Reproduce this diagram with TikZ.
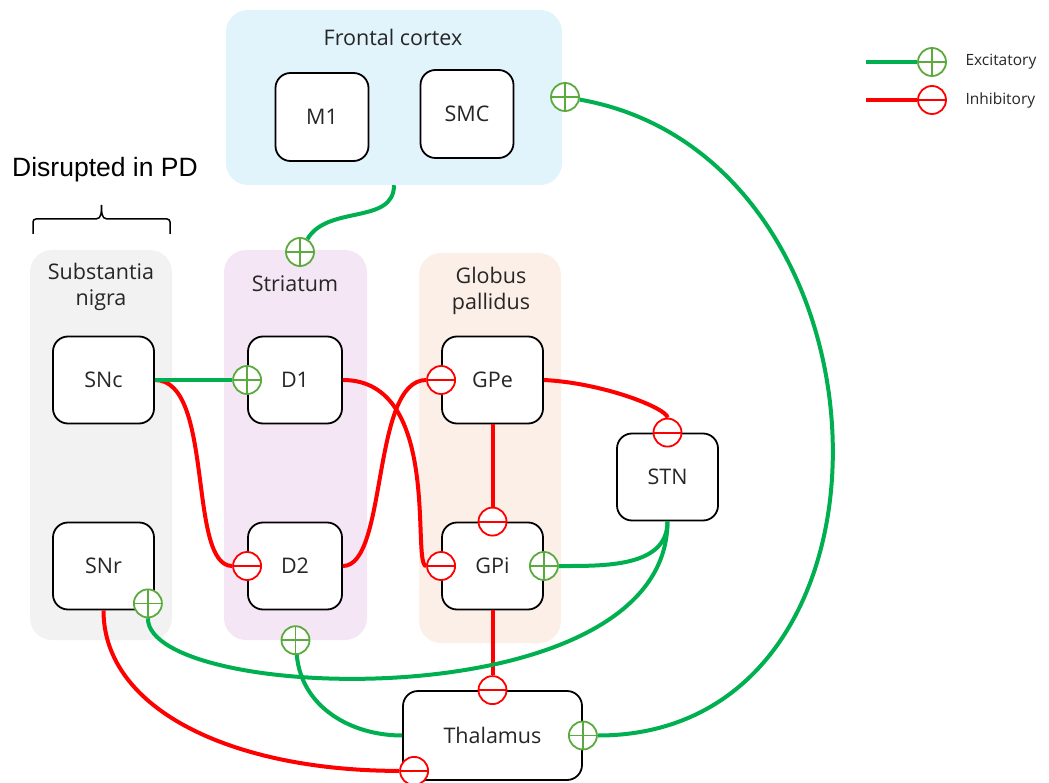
\documentclass[tikz,border=0pt]{standalone}
\usepackage{fontspec}
\setmainfont{Open Sans}
\newfontfamily\arialfont{Liberation Sans}
\usetikzlibrary{positioning, calc}

\definecolor{excline}{HTML}{00B050}
\definecolor{exccirc}{HTML}{5BAA3E}
\definecolor{inhline}{HTML}{FF0000}
\definecolor{cortexbg}{HTML}{E1F3FB}
\definecolor{nigrabg}{HTML}{F2F2F2}
\definecolor{striatbg}{HTML}{F5E6F5}
\definecolor{pallidbg}{HTML}{FCEFE7}
\definecolor{labeltext}{HTML}{262626}

\begin{document}
\begin{tikzpicture}[
    x=1pt, y=1pt,
    every node/.style={font=\fontsize{21.5}{26}\selectfont, text=labeltext},
    region/.style={rounded corners=22pt, inner sep=0pt},
    nucleus/.style={draw=black, rounded corners=15pt, fill=white, line width=1.8pt,
                    minimum width=101pt, minimum height=87pt},
    exc/.style={circle, draw=exccirc, fill=white, line width=1.8pt,
                minimum size=28pt, inner sep=0pt,
                path picture={\draw[exccirc, line width=1.8pt]
                  (path picture bounding box.north) -- (path picture bounding box.south)
                  (path picture bounding box.west) -- (path picture bounding box.east);}},
    inh/.style={circle, draw=inhline, fill=white, line width=1.8pt,
                minimum size=28pt, inner sep=0pt,
                path picture={\draw[inhline, line width=1.8pt]
                  (path picture bounding box.west) -- (path picture bounding box.east);}},
    excedge/.style={draw=excline, line width=4pt},
    inhedge/.style={draw=inhline, line width=4pt},
    legendtext/.style={anchor=west, font=\fontsize{15.5}{18}\selectfont},
]
\useasboundingbox (0,0) rectangle (1049,-783);

% Regions
\node[region, fill=cortexbg, minimum width=336pt, minimum height=175pt] (cortex) at (394,-97.5) {};
\node[region, fill=nigrabg,  minimum width=142pt, minimum height=390pt] (nigra) at (101,-445) {};
\node[region, fill=striatbg, minimum width=143pt, minimum height=390pt] (striatum) at (295.5,-445) {};
\node[region, fill=pallidbg, minimum width=142pt, minimum height=390pt] (pallidus) at (490,-448) {};

\node at (393,-37) {Frontal cortex};
\node[align=center] at (101,-287) {Substantia\\nigra};
\node at (295,-284) {Striatum};
\node[align=center] at (491,-291) {Globus\\pallidus};

% Nuclei
\node[nucleus, minimum width=93pt, minimum height=88pt] (M1)  at (322,-117) {M1};
\node[nucleus, minimum width=93pt, minimum height=88pt] (SMC) at (467,-114) {SMC};
\node[nucleus] (SNc) at (103.5,-380) {SNc};
\node[nucleus] (SNr) at (103.5,-566) {SNr};
\node[nucleus, minimum width=94pt] (D1) at (295,-380) {D1};
\node[nucleus, minimum width=94pt] (D2) at (295,-566) {D2};
\node[nucleus] (GPe) at (492.5,-380) {GPe};
\node[nucleus] (GPi) at (492.5,-566) {GPi};
\node[nucleus] (STN) at (667.5,-477) {STN};
\node[nucleus, minimum width=179pt, minimum height=89pt] (Thal) at (492.5,-735.5) {Thalamus};

% Terminals
\node[exc] (sCortex)  at (565,-97) {};
\node[exc] (sStriatT) at (300,-252) {};
\node[exc] (sD1)      at (D1.west) {};
\node[inh] (sD2)      at (D2.west) {};
\node[inh] (sGPe)     at (GPe.west) {};
\node[inh] (sGPiW)    at (GPi.west) {};
\node[inh] (sGPiN)    at (GPi.north) {};
\node[exc] (sGPiE)    at (GPi.east) {};
\node[inh] (sSTN)     at (STN.north) {};
\node[exc] (sSNr)     at ($(SNr.south east)+(-7,7)$) {};
\node[exc] (sStriatB) at (striatum.south) {};
\node[inh] (sThalN)   at (Thal.north) {};
\node[exc] (sThalE)   at (Thal.east) {};
\node[inh] (sThalSW)  at ($(Thal.south west)+(12,10)$) {};

% Connections
\draw[inhedge] (SNc.east) .. controls +(60,0) and +(-60,0) .. (sD2);
\draw[inhedge] (D1.east) .. controls +(100,0) and +(-30,0) .. (sGPiW);
\draw[inhedge] (D2.east) .. controls +(45,0) and +(-70,0) .. (sGPe);
\draw[inhedge] (GPe.south) -- (sGPiN);
\draw[inhedge] (GPe.east) .. controls +(60,-3) and +(0,24) .. (sSTN);
\draw[inhedge] (GPi.south) -- (sThalN);
\draw[inhedge] (SNr.south) .. controls +(0,-100) and +(-180,0) .. (sThalSW);
\draw[excedge] (cortex.south) to[out=-90, in=60] (sStriatT);
\draw[excedge] (SNc.east) -- (sD1);
\draw[excedge] (STN.south) to[out=-90, in=0] (sGPiE);
\draw[excedge] (STN.south) .. controls +(0,-200) and +(0,-100) .. (sSNr);
\draw[excedge] (sStriatB) to[out=-85, in=180] (Thal.west);
\draw[excedge] (sCortex) .. controls +(340,-60) and +(340,0) .. (sThalE);

% Disrupted in PD
\node[font=\arialfont\fontsize{26.5}{30}\selectfont, text=black] (pd) at (105,-170) {Disrupted in PD};
\draw[line width=1.5pt] (33,-234) -- (33,-222) to[out=90, in=180] (36,-219) -- (96,-219)
  to[out=0, in=-90] (101.5,-205) to[out=-90, in=180] (107,-219) -- (167,-219)
  to[out=0, in=90] (170,-222) -- (170,-234);

% Legend
\node[exc] (lgExc) at (932,-62) {};
\node[inh] (lgInh) at (932,-100) {};
\coordinate (lgExcTail) at (866,-62);
\coordinate (lgInhTail) at (866,-100);
\draw[excedge] (lgExcTail) -- (lgExc);
\draw[inhedge] (lgInhTail) -- (lgInh);
\node[legendtext] at (962,-62) {Excitatory};
\node[legendtext] at (962,-100) {Inhibitory};
\end{tikzpicture}
\end{document}
